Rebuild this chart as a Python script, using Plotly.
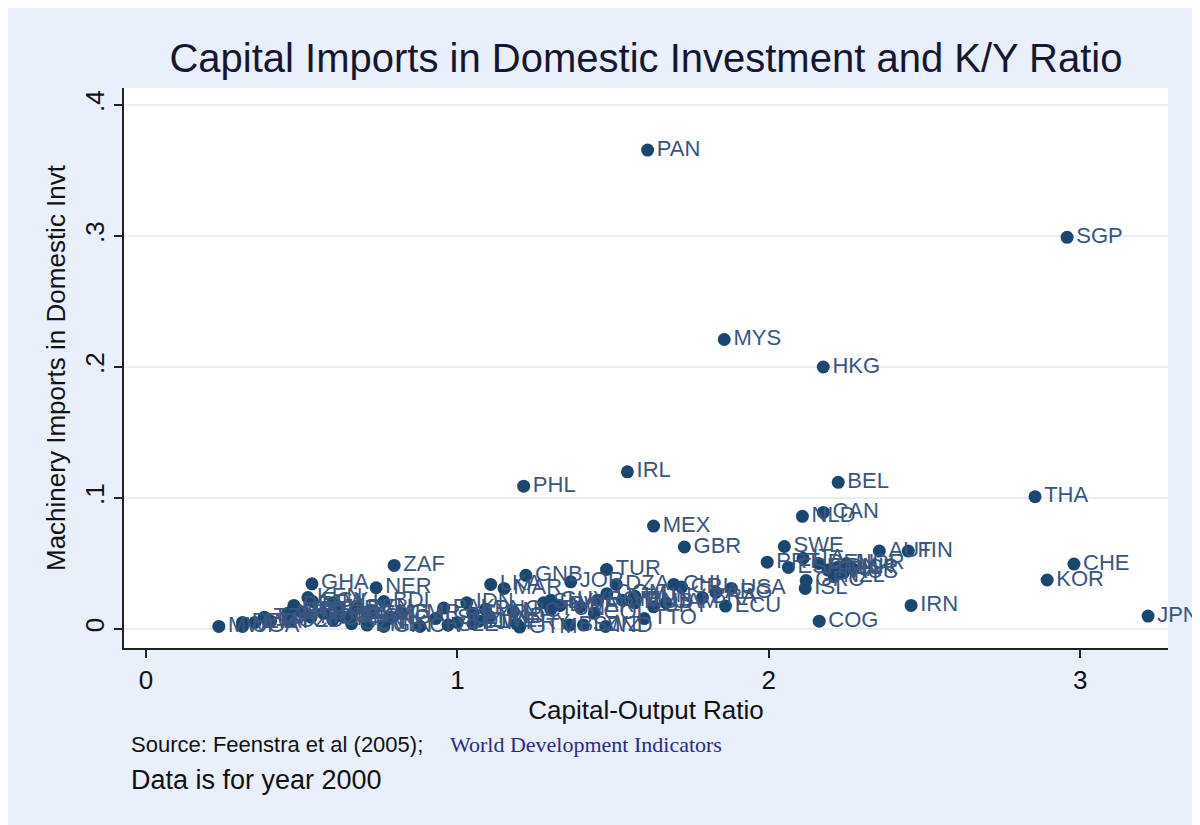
import plotly.graph_objects as go

# ---- data ----
countries = [
    "MWI", "RWA", "UGA", "ETH", "TZA", "MOZ", "NPL", "BFA", "TCD", "KEN",
    "GHA", "EGY", "MDG", "BGD", "CAF", "MLI", "TGO", "BEN", "SEN", "NER",
    "ZMB", "GMB", "NGA", "ZAF", "BDI", "CMR", "GIN", "CIV", "PAK", "SLE",
    "LSO", "BOL", "IDN", "SYR", "ZWE", "HND", "LKA", "MAR", "NIC", "GTM",
    "GNB", "SLV", "TUN", "PRY", "JOR", "PER", "COL", "TUR", "DZA", "DOM",
    "VEN", "BLZ", "SWZ", "IND", "TTO", "URY", "JAM", "CHL", "CRI", "BRA",
    "ECU", "USA", "ARG", "PRT", "SWE", "ESP", "ITA", "GRC", "ISL", "DEU",
    "FRA", "DNK", "AUS", "NOR", "NZL", "ISR", "AUT", "FIN", "NLD", "CAN",
    "BEL", "HKG", "MYS", "PAN", "SGP", "IRL", "PHL", "THA", "MEX", "GBR",
    "CHE", "KOR", "IRN", "COG", "JPN", "MRT", "HTI", "CPV", "COM", "FJI",
    "PNG", "GUY", "BWA", "ROM", "HUN", "MUS",
]
ky_ratio = [
    0.234, 0.31, 0.31, 0.35, 0.38, 0.40, 0.455, 0.475, 0.46, 0.52,
    0.533, 0.535, 0.53, 0.57, 0.60, 0.60, 0.635, 0.68, 0.66, 0.739,
    0.71, 0.72, 0.78, 0.797, 0.764, 0.82, 0.764, 0.88, 0.956, 0.97,
    0.93, 1.00, 1.03, 1.05, 1.07, 1.10, 1.107, 1.15, 1.18, 1.20,
    1.22, 1.277, 1.30, 1.19, 1.364, 1.395, 1.44, 1.479, 1.51, 1.48,
    1.53, 1.36, 1.405, 1.476, 1.60, 1.63, 1.67, 1.695, 1.72, 1.787,
    1.861, 1.88, 1.83, 1.995, 2.05, 2.063, 2.11, 2.12, 2.117, 2.16,
    2.19, 2.22, 2.24, 2.25, 2.21, 2.27, 2.355, 2.448, 2.108, 2.175,
    2.223, 2.175, 1.857, 1.611, 2.958, 1.546, 1.213, 2.855, 1.63, 1.729,
    2.98, 2.894, 2.457, 2.162, 3.218, 0.47, 0.50, 0.62, 0.66, 1.05,
    1.09, 1.30, 1.33, 1.45, 1.57, 1.57,
]
mach_imports = [
    0.002, 0.005, 0.002, 0.005, 0.009, 0.006, 0.012, 0.018, 0.006, 0.024,
    0.0345, 0.021, 0.009, 0.012, 0.007, 0.020, 0.009, 0.016, 0.004, 0.0315,
    0.003, 0.012, 0.008, 0.0485, 0.021, 0.012, 0.002, 0.002, 0.016, 0.003,
    0.008, 0.005, 0.020, 0.012, 0.006, 0.009, 0.034, 0.031, 0.013, 0.0015,
    0.041, 0.020, 0.015, 0.004, 0.036, 0.017, 0.012, 0.0455, 0.034, 0.027,
    0.022, 0.003, 0.003, 0.002, 0.008, 0.017, 0.020, 0.034, 0.032, 0.024,
    0.0175, 0.031, 0.028, 0.051, 0.063, 0.047, 0.054, 0.037, 0.031, 0.050,
    0.045, 0.047, 0.043, 0.050, 0.040, 0.046, 0.0595, 0.0595, 0.086, 0.089,
    0.112, 0.200, 0.221, 0.3656, 0.299, 0.120, 0.109, 0.101, 0.0786, 0.0626,
    0.0496, 0.0374, 0.018, 0.006, 0.0099, 0.014, 0.013, 0.015, 0.011, 0.004,
    0.015, 0.022, 0.018, 0.022, 0.025, 0.020,
]
y_tick_vals = [0, 0.1, 0.2, 0.3, 0.4]
y_tick_text = ["0", ".1", ".2", ".3", ".4"]
x_tick_vals = [0, 1, 2, 3]
x_tick_text = ["0", "1", "2", "3"]

FONT = "Liberation Sans, Arial, sans-serif"
NAVY = "#1a476f"

fig = go.Figure()
fig.add_trace(go.Scatter(
    x=ky_ratio, y=mach_imports, mode="markers+text",
    text=countries, textposition="middle right",
    textfont=dict(family=FONT, size=22, color="#3a5680"),
    marker=dict(size=13, color=NAVY, line=dict(width=0)),
    cliponaxis=False, hoverinfo="text",
))

fig.update_layout(
    width=1200, height=825,
    margin=dict(l=116, r=40, t=80, b=185),
    paper_bgcolor="#e9effb", plot_bgcolor="white",
    showlegend=False,
    font=dict(family=FONT, color="#111111"),
    title=dict(
        text="Capital Imports in Domestic Investment and K/Y Ratio",
        font=dict(family=FONT, size=40, color="#161630"),
        x=0.5, xref="paper", xanchor="center",
        y=1 - 50 / 825, yref="container", yanchor="middle",
    ),
    xaxis=dict(
        range=[-0.0706, 3.282], tickvals=x_tick_vals, ticktext=x_tick_text,
        showgrid=False, zeroline=False, automargin=False,
        showline=True, linecolor="#222222", linewidth=2,
        ticks="outside", ticklen=8, tickwidth=1.5, tickcolor="#222222",
        tickfont=dict(family=FONT, size=26, color="#111111"),
        title=dict(text="Capital-Output Ratio",
                   font=dict(family=FONT, size=26, color="#111111"),
                   standoff=6),
    ),
    yaxis=dict(
        range=[-0.0145, 0.413], tickvals=y_tick_vals, ticktext=y_tick_text,
        showgrid=True, gridcolor="#e6eff1", gridwidth=1.5, zeroline=False,
        automargin=False,
        showline=True, linecolor="#222222", linewidth=2,
        ticks="outside", ticklen=8, tickwidth=1.5, tickcolor="#222222",
        tickangle=-90,
        tickfont=dict(family=FONT, size=26, color="#111111"),
        title=dict(text="Machinery Imports in Domestic Invt",
                   font=dict(family=FONT, size=26, color="#111111"),
                   standoff=6),
    ),
)

fig.add_annotation(
    text="Source: Feenstra et al (2005);", xref="paper", yref="paper",
    x=0.0048, y=-0.173, xanchor="left", yanchor="middle", showarrow=False,
    font=dict(family=FONT, size=22, color="#111111"),
)
fig.add_annotation(
    text="World Development Indicators", xref="paper", yref="paper",
    x=0.31, y=-0.173, xanchor="left", yanchor="middle", showarrow=False,
    font=dict(family="Liberation Serif, Times New Roman, serif", size=22,
              color="#2a2a8a"),
)
fig.add_annotation(
    text="Data is for year 2000", xref="paper", yref="paper",
    x=0.0048, y=-0.236, xanchor="left", yanchor="middle", showarrow=False,
    font=dict(family=FONT, size=27, color="#111111"),
)

fig.write_html("out.html")
